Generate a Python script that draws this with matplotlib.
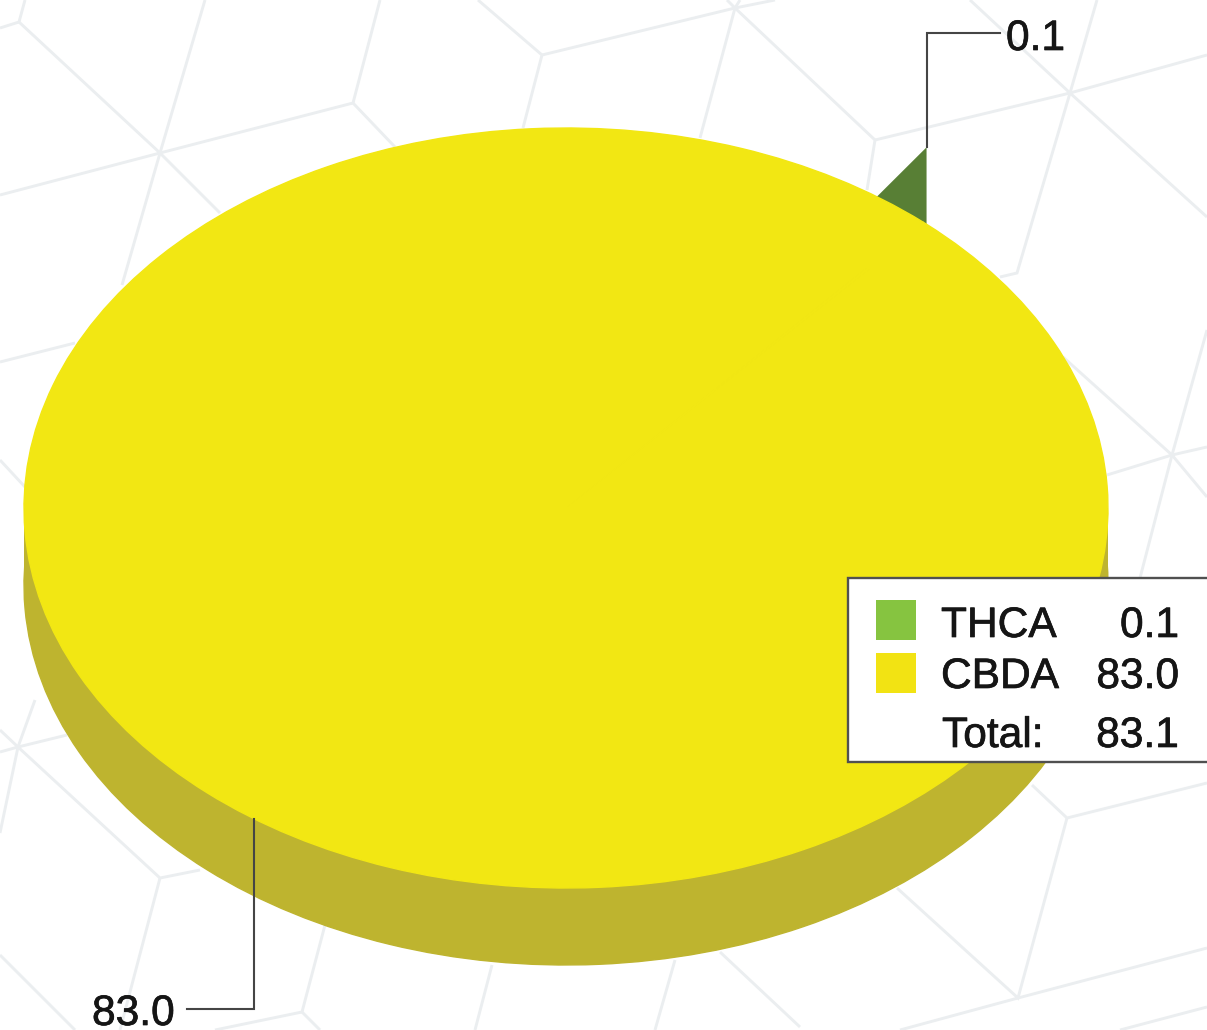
import matplotlib
matplotlib.use("Agg")
import matplotlib.pyplot as plt
import matplotlib.patheffects as pe
import numpy as np
from matplotlib.patches import Rectangle

plt.rcParams['font.family'] = ['Liberation Sans', 'DejaVu Sans']

names = ["THCA", "CBDA"]
values = [0.1, 83.0]
total_label = "Total:"

W, H = 1207, 1030
YELLOW = "#F2E713"
WALL = "#BEB42F"
DARK_GREEN = "#587F35"
LEGEND_COLORS = ["#86C440", "#F2E313"]
GRID = "#EBEEF0"
LEADER = "#454545"
INK = "#151515"
FONT = 30.6

# pie geometry, pixels
CX, CY = 566, 508
RX, RY = 542, 380
DEPTH = 77
START = 48.3    # angle where the THCA slice begins
SLIVER = 55.0   # far end of the thin green wall

# faint hexagon pattern behind the chart, pixels
pattern = [
    [(0, 28), (19, 22), (25, 0)],
    [(19, 22), (160, 153), (220, 213)],
    [(205, 0), (160, 153), (122, 285)],
    [(0, 195), (160, 153), (353, 103), (380, 0)],
    [(353, 103), (395, 147)],
    [(0, 362), (75, 343)],
    [(478, 0), (542, 55), (523, 128)],
    [(542, 55), (735, 8), (775, 0)],
    [(727, 0), (735, 8), (875, 140), (867, 190)],
    [(740, 0), (735, 8), (700, 138)],
    [(875, 140), (1070, 93), (1207, 55)],
    [(970, 0), (1070, 93), (1207, 217)],
    [(1097, 0), (1070, 93), (1017, 273), (1000, 277)],
    [(1207, 447), (1172, 455), (1107, 475)],
    [(1063, 357), (1172, 455), (1207, 497)],
    [(1207, 330), (1172, 455), (1140, 578)],
    [(1032, 785), (1067, 818), (1207, 783)],
    [(1067, 818), (1018, 998), (897, 888)],
    [(900, 1030), (1018, 998), (1207, 948)],
    [(1120, 1030), (1207, 1007)],
    [(0, 460), (25, 487)],
    [(0, 752), (18, 747), (67, 735)],
    [(0, 730), (18, 747), (160, 878), (200, 870)],
    [(0, 833), (18, 747), (35, 700)],
    [(160, 878), (120, 1030)],
    [(325, 925), (302, 1012), (215, 1030)],
    [(302, 1012), (320, 1030)],
    [(0, 955), (75, 1030)],
    [(492, 965), (475, 1030)],
    [(675, 960), (655, 1030)],
    [(720, 952), (800, 1027)],
]

fig = plt.figure(figsize=(W / 100, H / 100), dpi=100, facecolor="white")


def pixel_axes(zorder):
    ax = fig.add_axes([0, 0, 1, 1], zorder=zorder)
    ax.set_xlim(0, W)
    ax.set_ylim(H, 0)
    ax.axis("off")
    return ax


def rim(angle):
    a = np.radians(angle)
    return CX + RX * np.cos(a), CY - RY * np.sin(a)


def label(ax, x, y, s, **kw):
    # the reference text is a little heavier than plain Liberation Sans
    ax.text(x, y, s, fontsize=FONT, color=INK, va="baseline",
            path_effects=[pe.withStroke(linewidth=0.5, foreground=INK)], **kw)


bg = pixel_axes(0)
for pts in pattern:
    xs, ys = zip(*pts)
    bg.plot(xs, ys, color=GRID, lw=2.1, solid_joinstyle="miter", solid_capstyle="butt")

# the green slice only shows as a thin wall standing behind the rim
x0, y0 = rim(START)
x1, y1 = rim(SLIVER)
bg.fill([x1, x0, x0], [y1, y0 - DEPTH, y0 + 2], color=DARK_GREEN, lw=0, zorder=5)

# the pie lives in unit coordinates, stretched into an ellipse by the axes limits
ax = fig.add_axes([0, 0, 1, 1], zorder=1)
ax.patch.set_alpha(0)
d = DEPTH / RY
ax.pie(values, colors=[WALL, WALL], startangle=START, center=(0, -d), radius=1,
       wedgeprops={"lw": 1, "edgecolor": WALL})
xs = np.linspace(-1, 1, 200)
ax.fill_between(xs, -d, 0, color=WALL, lw=0)
ax.pie(values, colors=[YELLOW, YELLOW], startangle=START, radius=1,
       wedgeprops={"lw": 1, "edgecolor": YELLOW})
ax.set_aspect("auto")
ax.set_xlim(-CX / RX, (W - CX) / RX)
ax.set_ylim(-(H - CY) / RY, CY / RY)
ax.axis("off")

top = pixel_axes(2)

# leader lines
top.plot([x0, x0, 1000], [y0 - DEPTH, 33, 33], color=LEADER, lw=1.5, solid_joinstyle="miter")
lx, ly = rim(234.9)
top.plot([lx, lx, 187], [ly, 1009, 1009], color=LEADER, lw=1.5, solid_joinstyle="miter")
label(top, 1006, 50, f"{values[0]:.1f}")
label(top, 92, 1025, f"{values[1]:.1f}")

# legend box, runs off the right edge
top.add_patch(Rectangle((848, 578), 400, 184, facecolor="white", edgecolor="#505050", lw=1.7))
swatch_y = [600, 653]
text_y = [637, 688]
for name, val, col, sy, ty in zip(names, values, LEGEND_COLORS, swatch_y, text_y):
    top.add_patch(Rectangle((876, sy), 40, 40, facecolor=col, lw=0))
    label(top, 941, ty, name)
    label(top, 1179, ty, f"{val:.1f}", ha="right")
label(top, 942, 747, total_label)
label(top, 1179, 747, f"{sum(values):.1f}", ha="right")

fig.savefig("out.png", dpi=100)
